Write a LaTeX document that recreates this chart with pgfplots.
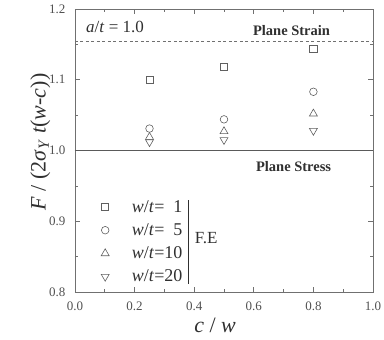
\documentclass[border=0pt]{standalone}
\usepackage{pgfplots}
\pgfplotsset{compat=1.18}
\usepackage{fontspec}
\setmainfont{Liberation Serif}
\definecolor{axgray}{HTML}{707070}
\definecolor{mkgray}{HTML}{606060}
\definecolor{txtgray}{HTML}{505050}
\definecolor{lblgray}{HTML}{303030}
\begin{document}
\begin{tikzpicture}
\useasboundingbox (-75pt,-48pt) rectangle (309pt,292pt);
\begin{axis}[
  at={(0pt,0pt)}, anchor=south west,
  scale only axis, width=298pt, height=283pt,
  xmin=0, xmax=1, ymin=0.8, ymax=1.2,
  xtick={0,0.2,...,1.0}, ytick={0.8,0.9,...,1.2},
  minor x tick num=1, minor y tick num=1,
  tick align=inside, major tick length=5pt, minor tick length=3pt,
  axis line style={axgray, line width=0.9pt},
  every tick/.style={axgray, line width=0.7pt},
  ticklabel style={font=\fontsize{13}{15}\selectfont, text=txtgray},
  xticklabel style={yshift=-6pt},
  yticklabel style={xshift=-6pt},
  /pgf/number format/assume math mode=true,
  xticklabel={\pgfmathprintnumber[fixed,precision=1,zerofill]{\tick}},
  yticklabel={\pgfmathprintnumber[fixed,precision=1,zerofill]{\tick}},
  xlabel={\textit{c} / \textit{w}},
  ylabel={\textit{F} / (2\textit{σ}\textsubscript{\textit{Y}} \textit{t}(\textit{w}-\textit{c}))},
  label style={font=\fontsize{22}{24}\selectfont, text=lblgray},
  xlabel style={at={(ticklabel cs:0.47)}, anchor=north, yshift=-1pt},
  ylabel style={at={(ticklabel cs:0.53)}, anchor=south, yshift=-8pt},
  clip=false,
  legend style={at={(axis cs:0.0604,0.9368)}, anchor=north west, draw=none, fill=none,
    inner sep=0pt, row sep=0pt, column sep=14.7pt, nodes={inner sep=0pt},
    font=\fontsize{18}{20}\selectfont, text=lblgray},
  legend cell align=left,
  legend image code/.code={\path[draw=none,fill=none] (0pt,-11.6pt) rectangle (24pt,11.6pt); \draw[#1] plot coordinates {(12pt,0pt)};},
  every axis plot/.append style={mkgray, line width=0.6pt},
]
\addplot[only marks, mark=square, mark size=3.6pt] coordinates {(0.25,1.100) (0.5,1.118) (0.8,1.144)};
\addlegendentry{\textit{w}/\textit{t}=\hphantom{0}1}
\addplot[only marks, mark=o, mark size=3.8pt] coordinates {(0.25,1.031) (0.5,1.044) (0.8,1.083)};
\addlegendentry{\textit{w}/\textit{t}=\hphantom{0}5}
\addplot[only marks, mark=triangle, mark size=4.6pt] coordinates {(0.25,1.019) (0.5,1.027) (0.8,1.052)};
\addlegendentry{\textit{w}/\textit{t}=10}
\addplot[only marks, mark=triangle, mark size=4.6pt, mark options={rotate=180}] coordinates {(0.25,1.012) (0.5,1.015) (0.8,1.028)};
\addlegendentry{\textit{w}/\textit{t}=20}
\addplot[axgray, line width=0.9pt, dash pattern=on 3pt off 2.5pt, forget plot] coordinates {(0,1.154) (1,1.154)};
\addplot[axgray!80!black, line width=1.3pt, forget plot] coordinates {(0,1.0) (1,1.0)};
\draw[lblgray, line width=1pt] (axis cs:0.380,0.930) -- (axis cs:0.380,0.812);
\node[anchor=center, text=lblgray, font=\fontsize{17}{19}\selectfont] at (axis cs:0.440,0.876) {F.E};
\node[anchor=west, text=lblgray, font=\fontsize{17}{19}\selectfont, inner sep=0pt] at (axis cs:0.037,1.1746) {\textit{a}/\textit{t} = 1.0};
\node[anchor=west, text=lblgray, font=\bfseries\fontsize{14.5}{16}\selectfont, inner sep=0pt] at (axis cs:0.597,1.170) {Plane Strain};
\node[anchor=west, text=lblgray, font=\bfseries\fontsize{14.5}{16}\selectfont, inner sep=0pt] at (axis cs:0.607,0.977) {Plane Stress};
\end{axis}
\end{tikzpicture}
\end{document}
